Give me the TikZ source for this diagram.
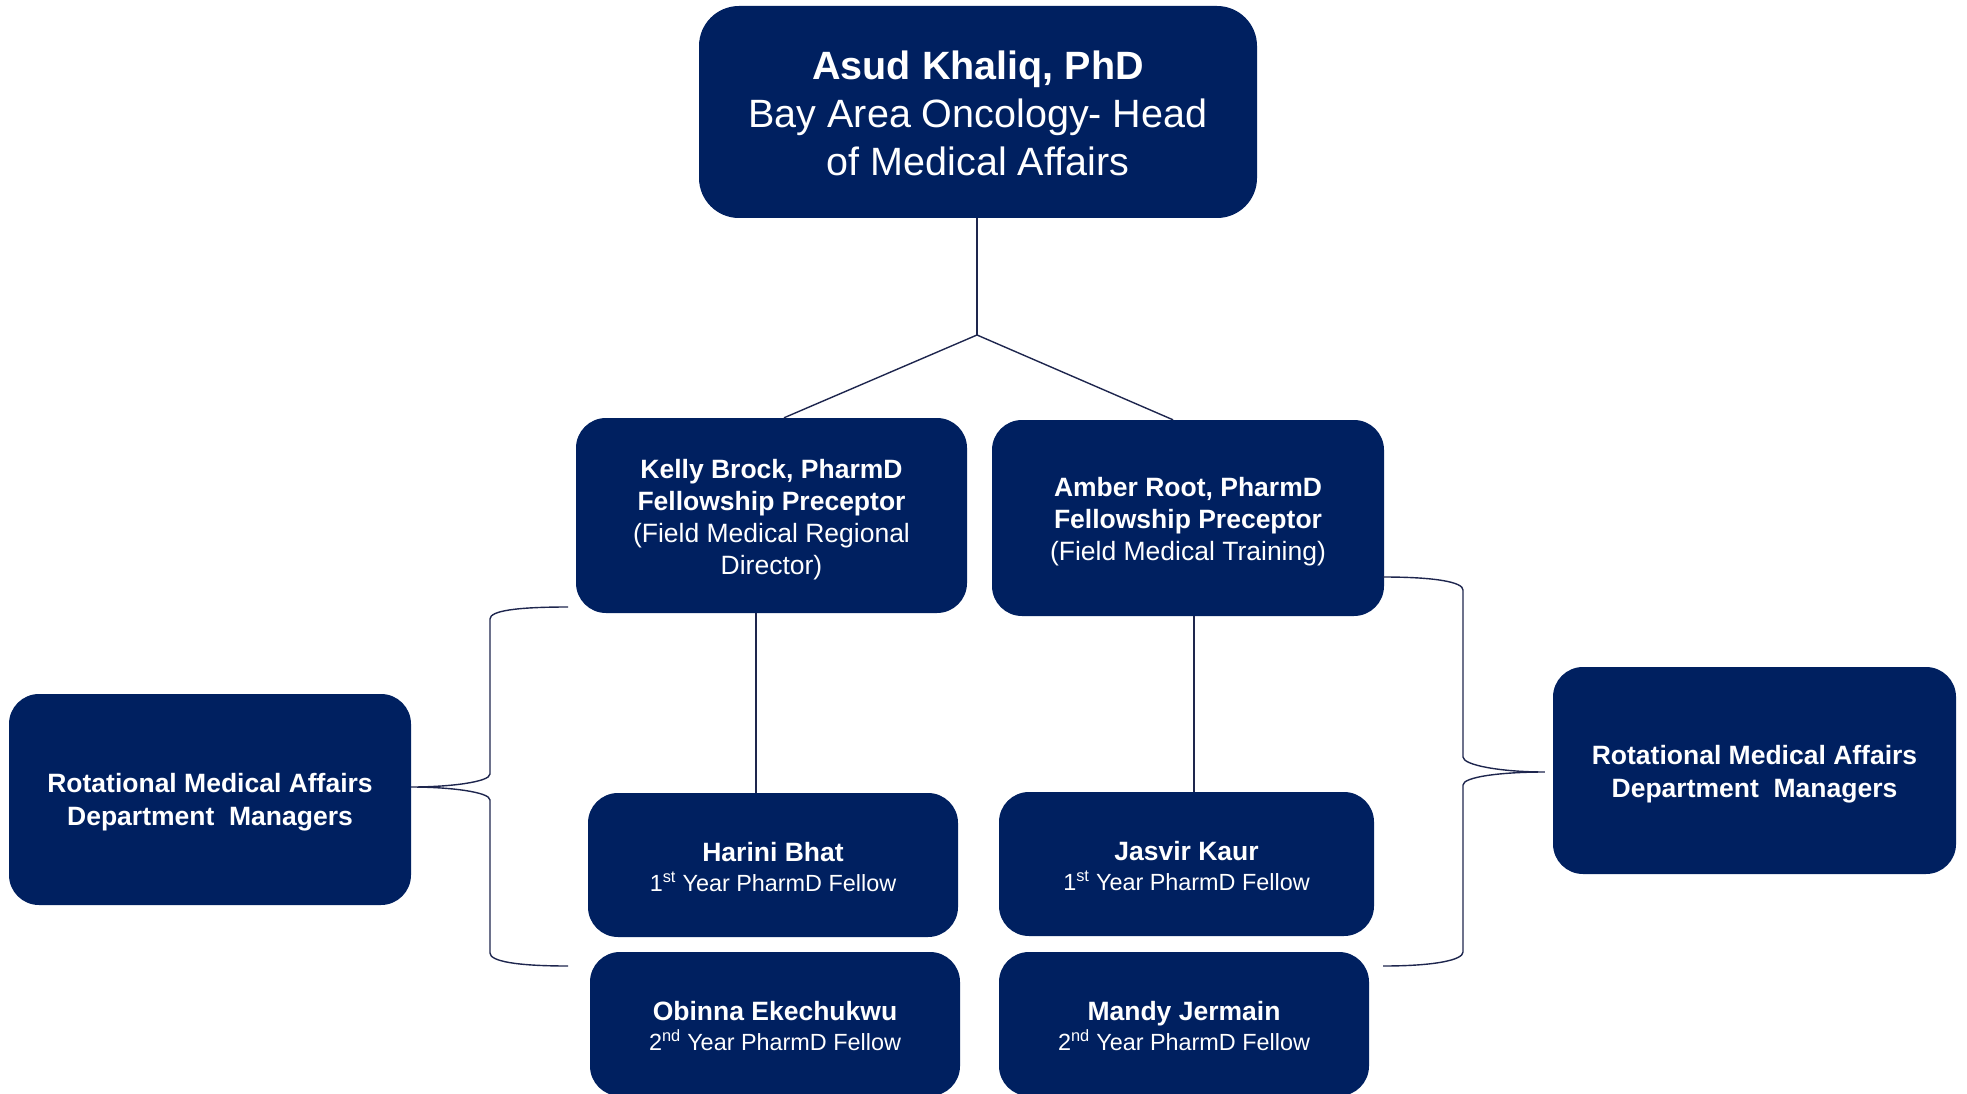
\documentclass[tikz,border=0pt]{standalone}
\usepackage{fontspec}
\setmainfont{Liberation Sans}
\definecolor{navy}{RGB}{0,32,96}
\definecolor{linec}{RGB}{30,38,78}
\begin{document}
\begin{tikzpicture}[x=1pt,y=-1pt,
  box/.style={fill=navy, rounded corners=30pt, text=white, align=center, inner sep=0pt},
  mid/.style={font=\fontsize{26.5}{32}\selectfont},
  fellow/.style={font=\fontsize{23.4}{30}\selectfont, minimum height=144pt},
  conn/.style={draw=linec, line width=1.4pt}]
\useasboundingbox (0,0) rectangle (1967,1094);

\node[box, minimum width=558pt, minimum height=212pt, rounded corners=40pt,
      font=\fontsize{39.5}{48}\selectfont] (top) at (978,112)
  {\rule{0pt}{31pt}\textbf{Asud Khaliq, PhD}\\Bay Area Oncology- Head\\of Medical Affairs};

\node[box, mid, minimum width=391pt, minimum height=195pt] (kelly) at (771.5,515.5)
  {\rule{0pt}{27.5pt}\textbf{Kelly Brock, PharmD}\\\textbf{Fellowship Preceptor}\\(Field Medical Regional\\Director)};
\node[box, mid, minimum width=392pt, minimum height=196pt] (amber) at (1188,518)
  {\rule{0pt}{26.5pt}\textbf{Amber Root, PharmD}\\\textbf{Fellowship Preceptor}\\(Field Medical Training)};

\node[box, fellow, minimum width=370pt] (harini) at (773,865)
  {\rule{0pt}{24pt}\textbf{\fontsize{26.5}{30}\selectfont Harini Bhat}\\1\textsuperscript{st} Year PharmD Fellow};
\node[box, fellow, minimum width=375pt] (jasvir) at (1186.5,864)
  {\rule{0pt}{24pt}\textbf{\fontsize{26.5}{30}\selectfont Jasvir Kaur}\\1\textsuperscript{st} Year PharmD Fellow};
\node[box, fellow, minimum width=370pt] (obinna) at (775,1024)
  {\rule{0pt}{24pt}\textbf{\fontsize{26.5}{30}\selectfont Obinna Ekechukwu}\\2\textsuperscript{nd} Year PharmD Fellow};
\node[box, fellow, minimum width=370pt] (mandy) at (1184,1024)
  {\rule{0pt}{24pt}\textbf{\fontsize{26.5}{30}\selectfont Mandy Jermain}\\2\textsuperscript{nd} Year PharmD Fellow};

\node[box, minimum width=402pt, minimum height=211pt,
      font=\bfseries\fontsize{26.5}{32.6}\selectfont] (lrma) at (210,799.5)
  {\rule{0pt}{24pt}Rotational Medical Affairs\\Department\ \ Managers};
\node[box, minimum width=403pt, minimum height=207pt,
      font=\bfseries\fontsize{26.5}{32.6}\selectfont] (rrma) at (1754.5,770.5)
  {\rule{0pt}{27pt}Rotational Medical Affairs\\Department\ \ Managers};

% tree connectors
\coordinate (j) at (977,335);
\draw[conn] (top.south -| j) -- (j);
\draw[conn] (j) -- ([xshift=12.5pt]kelly.north);
\draw[conn] (j) -- ([xshift=-15pt]amber.north);
\draw[conn] ([xshift=-15.5pt]kelly.south) -- ([xshift=-15.5pt]kelly.south |- harini.north);
\draw[conn] ([xshift=6pt]amber.south) -- ([xshift=6pt]amber.south |- jasvir.north);

% left brace
\coordinate (lt) at (568,607);
\coordinate (lb) at (568,966);
\coordinate (ltip) at ([yshift=12.5pt]lrma.east);
\draw[conn] (lt) .. controls (515,607) and (490,611) .. (490,619) -- (490,774)
  .. controls (490,782) and (450,787) .. (ltip)
  .. controls (450,787) and (490,792) .. (490,800) -- (490,953)
  .. controls (490,961) and (515,966) .. (lb);

% right brace
\coordinate (rt) at (1383,577);
\coordinate (rb) at (1383,966);
\coordinate (rtip) at ([xshift=-8pt,yshift=-1.5pt]rrma.west);
\draw[conn] (rt) .. controls (1435,577) and (1463,582) .. (1463,590) -- (1463,757)
  .. controls (1463,765) and (1500,772) .. (rtip)
  .. controls (1500,772) and (1463,777) .. (1463,785) -- (1463,952)
  .. controls (1463,960) and (1435,966) .. (rb);
\end{tikzpicture}
\end{document}
